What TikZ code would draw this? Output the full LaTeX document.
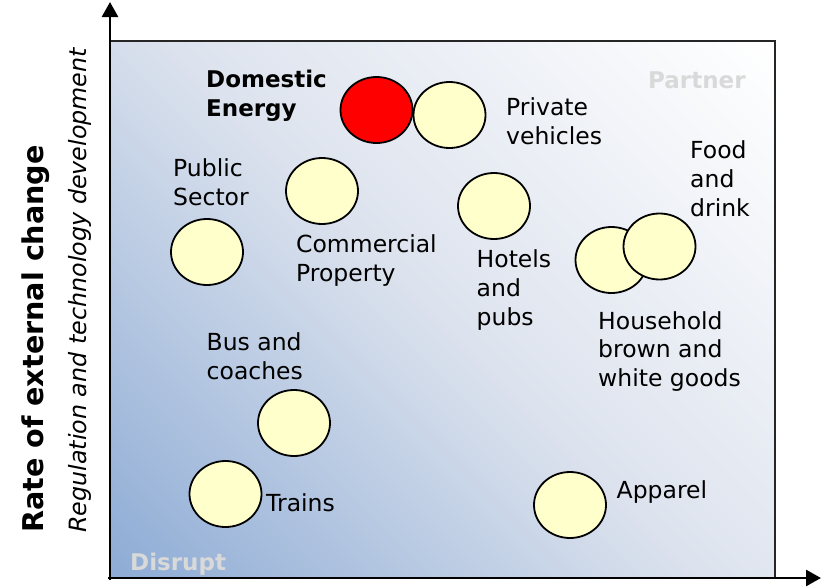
\documentclass[tikz,border=0pt]{standalone}
\usepackage{fontspec}
\setmainfont{DejaVu Sans}
\usetikzlibrary{arrows.meta,shadings,shapes.geometric}
\definecolor{bubble}{HTML}{FFFFCC}
\definecolor{ghost}{HTML}{D9D9D9}
\definecolor{bgLL}{HTML}{8EACD5}
\definecolor{bgMid}{HTML}{DDE3EE}
\pgfdeclarehorizontalshading{panelshade}{100bp}{color(0bp)=(bgLL); color(15bp)=(bgLL); color(50bp)=(bgMid); color(85bp)=(white); color(100bp)=(white)}
\tikzset{
  bub/.style={ellipse, draw=black, line width=1.8pt, fill=bubble, minimum width=72pt, minimum height=66pt, inner sep=0pt},
  lbl/.style={anchor=base west, align=left, inner sep=0pt, font=\fontsize{23.5}{28.6}\selectfont},
  blbl/.style={lbl, font=\fontsize{23}{29}\selectfont\bfseries},
  quad/.style={anchor=base west, inner sep=0pt, text=ghost, font=\fontsize{23}{28}\selectfont\bfseries},
  axis/.style={line width=2.6pt, -{Triangle[length=15pt,width=16pt]}}
}
\begin{document}
\begin{tikzpicture}[x=1pt,y=-1pt]
\useasboundingbox (0,0) rectangle (823,587);
% background panel
\shade[shading=panelshade, shading angle=45] (111,41) rectangle (775,578);
\draw[line width=2pt, draw=black!85] (111,41) -- (775,41) -- (775,578);
% axes
\coordinate (o1) at (110,580);
\coordinate (ytip) at (110,2);
\coordinate (o2) at (108,578);
\coordinate (xtip) at (821,578);
\draw[axis] (o1) -- (ytip);
\draw[axis] (o2) -- (xtip);
% axis titles
\node[rotate=90, anchor=base west, inner sep=0pt, font=\fontsize{28.6}{30}\selectfont\bfseries] (ttl) at (43,533) {Rate of external change};
\node[rotate=90, anchor=base west, inner sep=0pt, font=\fontsize{23.8}{28}\selectfont\itshape] (sub) at (86,533) {Regulation and technology development};
% quadrant labels
\node[quad] (partner) at (648,88) {Partner};
\node[quad] (disrupt) at (130,570) {Disrupt};
% bubbles
\node[bub, fill=red] (dom) at (376.5,110) {};
\node[bub] (priv) at (449.5,115) {};
\node[bub] (pub) at (207,252) {};
\node[bub] (com) at (322,191) {};
\node[bub] (hot) at (494,206) {};
\node[bub] (hou) at (611.5,260) {};
\node[bub] (food) at (659.5,246.5) {};
\node[bub] (bus) at (294,423) {};
\node[bub] (train) at (225.5,494) {};
\node[bub] (app) at (570,505) {};
% labels (anchored at the baseline of their last line)
\node[blbl] (tdom) at (206,116) {Domestic\\Energy};
\node[lbl] (tpriv) at (506,144) {Private\\vehicles};
\node[lbl] (tpub) at (173,205.5) {Public\\Sector};
\node[lbl] (tcom) at (296,281.5) {Commercial\\Property};
\node[lbl] (thot) at (476.5,325) {Hotels\\and\\pubs};
\node[lbl] (tfood) at (690,216) {Food\\and\\drink};
\node[lbl] (thou) at (598,386.5) {Household\\brown and\\white goods};
\node[lbl] (tbus) at (206.5,379) {Bus and\\coaches};
\node[lbl] (ttrain) at (266,511) {Trains};
\node[lbl] (tapp) at (616.5,498.5) {Apparel};
\end{tikzpicture}
\end{document}
